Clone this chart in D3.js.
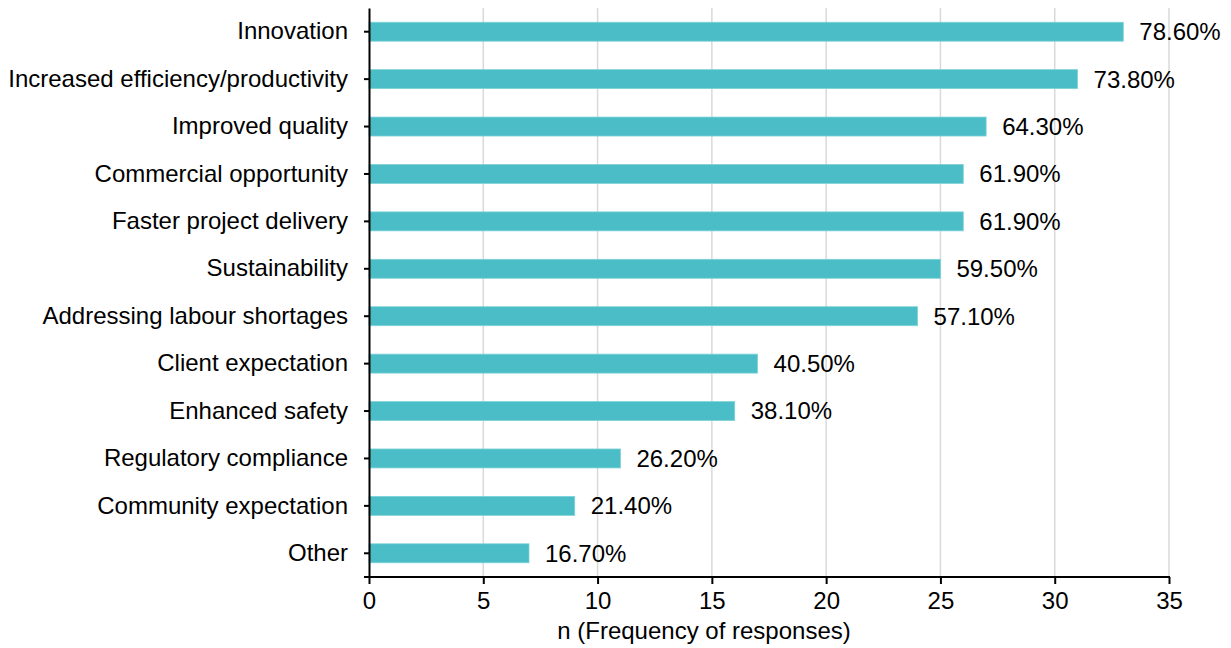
<!DOCTYPE html>
<html>
<head>
<meta charset="utf-8">
<script src="https://cdn.jsdelivr.net/npm/d3@7"></script>
<style>
  html, body { margin: 0; padding: 0; background: #ffffff; }
  svg { display: block; font-family: "Liberation Sans", Arial, sans-serif; }
</style>
</head>
<body>
<svg id="chart" width="1231" height="648"></svg>
<script>
// Drivers for adoption, counts of respondents (n = 42) and share of respondents
const categories = [
  "Innovation",
  "Increased efficiency/productivity",
  "Improved quality",
  "Commercial opportunity",
  "Faster project delivery",
  "Sustainability",
  "Addressing labour shortages",
  "Client expectation",
  "Enhanced safety",
  "Regulatory compliance",
  "Community expectation",
  "Other"
];
const counts = [33, 31, 27, 26, 26, 25, 24, 17, 16, 11, 9, 7];
const percentLabels = ["78.60%", "73.80%", "64.30%", "61.90%", "61.90%", "59.50%",
                       "57.10%", "40.50%", "38.10%", "26.20%", "21.40%", "16.70%"];
const xTicks = [0, 5, 10, 15, 20, 25, 30, 35];
const xTitle = "n (Frequency of responses)";

const rows = categories.map((c, i) => ({ name: c, n: counts[i], label: percentLabels[i] }));

const margin = { top: 8, right: 62, bottom: 71, left: 369 };
const width = 1231, height = 648;
const svg = d3.select("#chart");

const x = d3.scaleLinear().domain([0, 35]).range([margin.left, width - margin.right]);
const y = d3.scaleBand()
  .domain(categories)
  .range([margin.top, height - margin.bottom])
  .paddingInner(0.6)
  .paddingOuter(0.3);

const plotTop = margin.top, plotBottom = height - margin.bottom;

// vertical gridlines
svg.append("g")
  .selectAll("line")
  .data(xTicks.filter(t => t > 0))
  .join("line")
  .attr("x1", d => x(d)).attr("x2", d => x(d))
  .attr("y1", plotTop).attr("y2", plotBottom)
  .attr("stroke", "#d9d9d9")
  .attr("stroke-width", 1.5);

// bars
svg.append("g")
  .selectAll("rect")
  .data(rows)
  .join("rect")
  .attr("x", x(0))
  .attr("y", d => y(d.name))
  .attr("width", d => x(d.n) - x(0))
  .attr("height", y.bandwidth())
  .attr("fill", "#4abdc6")
  .attr("stroke", "#7fd2d8")
  .attr("stroke-width", 0.8);

// value labels
svg.append("g")
  .selectAll("text")
  .data(rows)
  .join("text")
  .attr("x", d => x(d.n) + 16)
  .attr("y", d => y(d.name) + y.bandwidth() / 2)
  .attr("dy", "0.35em")
  .attr("font-size", 24)
  .attr("fill", "#000")
  .text(d => d.label);

// x axis
const xAxis = svg.append("g")
  .attr("transform", `translate(0,${plotBottom})`)
  .call(d3.axisBottom(x).tickValues(xTicks).tickSize(7).tickSizeOuter(0).tickPadding(8));
xAxis.select(".domain").remove();
xAxis.selectAll(".tick line").attr("stroke", "#000").attr("stroke-width", 2);
xAxis.selectAll("text").attr("font-size", 24).attr("fill", "#000")
  .attr("font-family", "Liberation Sans, Arial, sans-serif");
svg.append("line")
  .attr("x1", x(0) - 5).attr("x2", x(35) + 1)
  .attr("y1", plotBottom).attr("y2", plotBottom)
  .attr("stroke", "#000").attr("stroke-width", 2);

// y axis
const yAxis = svg.append("g")
  .attr("transform", `translate(${x(0)},0)`)
  .call(d3.axisLeft(y).tickSize(5).tickSizeOuter(0).tickPadding(16));
yAxis.select(".domain").attr("stroke", "#000").attr("stroke-width", 2);
yAxis.selectAll(".tick line").attr("stroke", "#000").attr("stroke-width", 2);
yAxis.selectAll("text").attr("font-size", 24).attr("fill", "#000")
  .attr("font-family", "Liberation Sans, Arial, sans-serif");

// axis title, centred under the whole chart area
svg.append("text")
  .attr("x", 704)
  .attr("y", 639)
  .attr("text-anchor", "middle")
  .attr("font-size", 24)
  .attr("fill", "#000")
  .text(xTitle);
</script>
</body>
</html>
